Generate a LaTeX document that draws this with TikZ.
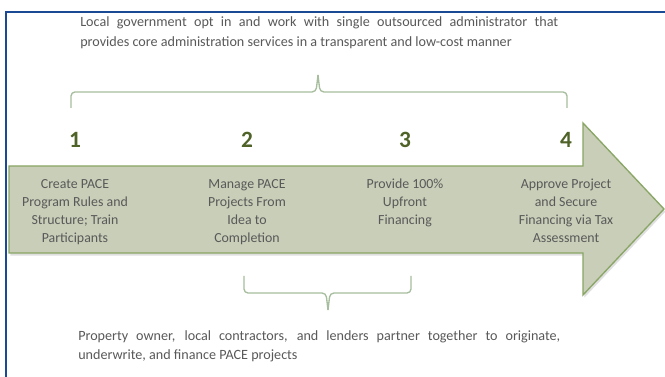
\documentclass[tikz,border=0pt]{standalone}
\usepackage{fontspec}
\setmainfont{Carlito}
\usetikzlibrary{shadows}
\definecolor{framecol}{HTML}{1A4A94}
\definecolor{bodytext}{HTML}{595959}
\definecolor{stepnum}{HTML}{4F6228}
\definecolor{arrowfill}{HTML}{C8CEB8}
\definecolor{arrowline}{HTML}{8AA665}
\definecolor{bracecol}{HTML}{A6BD9E}
\begin{document}
\begin{tikzpicture}[x=0.75pt,y=-0.75pt,
  note/.style={inner sep=0pt, anchor=north west, text=bodytext, align=justify,
    font=\fontsize{10.6}{15}\selectfont},
  stepnum/.style={inner sep=0pt, anchor=base, text=stepnum,
    font=\fontsize{17.5}{20}\selectfont\bfseries},
  steptext/.style={inner sep=0pt, anchor=north, align=center, text=bodytext,
    font=\fontsize{10.4}{13.5}\selectfont},
  brace/.style={draw=bracecol, line width=1pt, rounded corners=3pt},
]
\useasboundingbox (0,0) rectangle (665,377);
\fill[white] (0,0) rectangle (665,377);

% outer frame (left and top edges)
\draw[framecol, line width=1.6pt] (6,377) -- (6,12) -- (665,12);

% top note
\node[note, text width=478*0.75pt] (topnote) at (80,16)
  {Local government opt in and work with single outsourced administrator that\linebreak
   provides core administration services in a transparent and low-cost manner};

% top brace
\draw[brace] (71,108) -- (71,92) -- (316,92) -- (318,75);
\draw[brace] (318,75) -- (320,92) -- (567,92) -- (567,108);

% process arrow
\path[fill=arrowfill, draw=arrowline, line width=1pt, line join=miter,
  drop shadow={shadow xshift=1pt, shadow yshift=-2pt, opacity=0.25}]
  (9,166) -- (583,166) -- (583,123) -- (664,209) -- (583,295) -- (583,253) -- (9,253) -- cycle;

% step numbers
\node[stepnum] (n1) at (75,148) {1};
\node[stepnum] (n2) at (247,148) {2};
\node[stepnum] (n3) at (405,148) {3};
\node[stepnum] (n4) at (566,148) {4};

% step descriptions
\node[steptext] (s1) at (75,179) {Create PACE\\Program Rules and\\Structure; Train\\Participants};
\node[steptext] (s2) at (247,179) {Manage PACE\\Projects From\\Idea to\\Completion};
\node[steptext] (s3) at (405,179) {Provide 100\%\\Upfront\\Financing};
\node[steptext] (s4) at (566,179) {Approve Project\\and Secure\\Financing via Tax\\Assessment};

% bottom brace
\draw[brace] (244,276) -- (244,293) -- (326,293) -- (328,310);
\draw[brace] (328,310) -- (330,293) -- (411,293) -- (411,276);

% bottom note
\node[note, text width=482*0.75pt, font=\fontsize{10.6}{14.5}\selectfont] (botnote) at (78,330)
  {Property owner, local contractors, and lenders partner together to originate,\linebreak
   underwrite, and finance PACE projects};
\end{tikzpicture}
\end{document}
